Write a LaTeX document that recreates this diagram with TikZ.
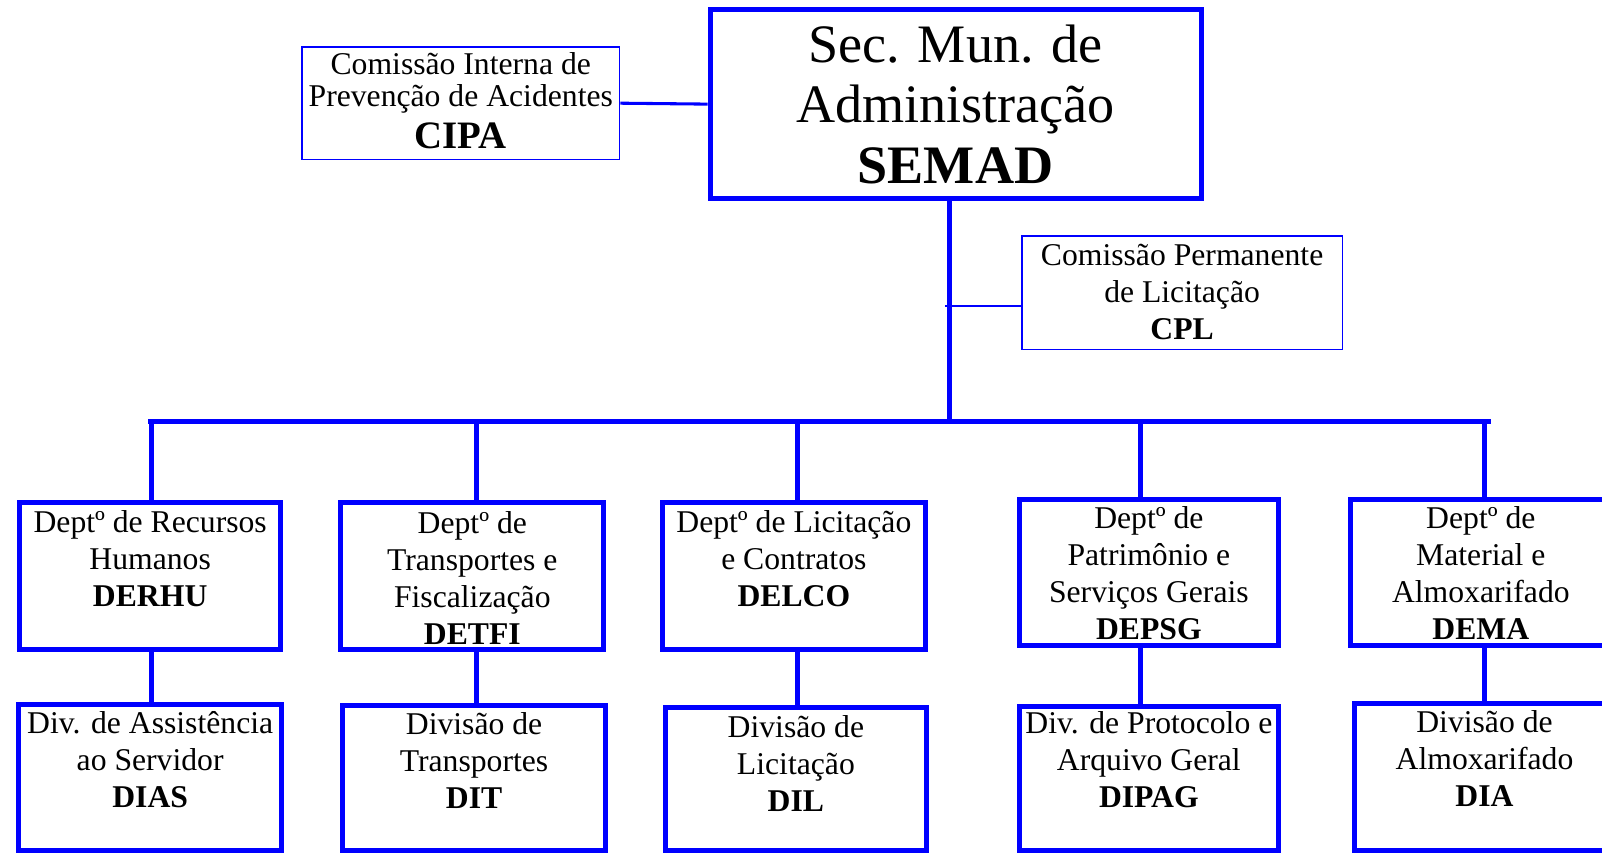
\documentclass[tikz,border=0pt]{standalone}
\usepackage{fontspec}
\setmainfont{Liberation Serif}
\definecolor{orgblue}{RGB}{0,0,255}
\begin{document}
\begin{tikzpicture}[x=1pt,y=-1pt]
\tikzset{
 hbox/.style={draw=orgblue, line width=4.9pt, inner sep=0pt},
 lbox/.style={draw=orgblue, line width=1.6pt, inner sep=0pt},
 hline/.style={draw=orgblue, line width=4.9pt},
 mline/.style={draw=orgblue, line width=3pt},
 sline/.style={draw=orgblue, line width=1.6pt},
 txt/.style={anchor=north, inner sep=0pt, align=center, font=\fontsize{31}{36.3}\selectfont},
 bigtxt/.style={anchor=north, inner sep=0pt, align=center, font=\fontsize{53}{59.3}\selectfont},
 cipatxt/.style={anchor=north, inner sep=0pt, align=center, font=\fontsize{31}{31.5}\selectfont},
}
\useasboundingbox (0,0) rectangle (1568,835);
\clip (0,0) rectangle (1568,835);

% top level
\node[hbox, minimum width=480.5pt, minimum height=184.8pt] (semad) at (935.25,101.9) {};
\node[bigtxt] (semad-t) at (935.25,18.5) {\rule{0pt}{42pt}Sec. Mun. de\\Administração\\\textbf{SEMAD}};

\node[lbox, minimum width=311pt, minimum height=110.3pt] (cipa) at (450.8,101) {};
\node[cipatxt] (cipa-t) at (451,48) {\rule{0pt}{25pt}Comissão Interna de\\Prevenção de Acidentes\\[8pt]{\fontsize{38}{40}\selectfont\bfseries CIPA}};

\node[lbox, minimum width=314pt, minimum height=111pt] (cpl) at (1157,286.5) {};
\node[txt] (cpl-t) at (1157,234.5) {\rule{0pt}{25pt}Comissão Permanente\\de Licitação\\\textbf{CPL}};

% departments
\node[hbox, minimum width=255pt, minimum height=144pt] (derhu) at (147,564) {};
\node[txt] (derhu-t) at (147,496) {\rule{0pt}{25pt}Deptº de Recursos\\Humanos\\\textbf{DERHU}};

\node[hbox, minimum width=257.7pt, minimum height=143.6pt] (detfi) at (462.3,563.8) {};
\node[txt] (detfi-t) at (462.3,496.5) {\rule{0pt}{25pt}Deptº de\\Transportes e\\Fiscalização\\\textbf{DETFI}};

\node[hbox, minimum width=257.2pt, minimum height=143.6pt] (delco) at (777,563.8) {};
\node[txt] (delco-t) at (777,496) {\rule{0pt}{25pt}Deptº de Licitação\\e Contratos\\\textbf{DELCO}};

\node[hbox, minimum width=254.2pt, minimum height=143.2pt] (depsg) at (1124.5,560.5) {};
\node[txt] (depsg-t) at (1124.5,491.6) {\rule{0pt}{25pt}Deptº de\\Patrimônio e\\Serviços Gerais\\\textbf{DEPSG}};

\node[hbox, minimum width=256pt, minimum height=143.2pt] (dema) at (1449.4,560.5) {};
\node[txt] (dema-t) at (1449.4,491.6) {\rule{0pt}{25pt}Deptº de\\Material e\\Almoxarifado\\\textbf{DEMA}};

% divisions
\node[hbox, minimum width=257.2pt, minimum height=143.1pt] (dias) at (147,761) {};
\node[txt] (dias-t) at (147,693) {\rule{0pt}{25pt}Div. de Assistência\\ao Servidor\\\textbf{DIAS}};

\node[hbox, minimum width=257.2pt, minimum height=142.1pt] (dit) at (464,761.5) {};
\node[txt] (dit-t) at (464,694) {\rule{0pt}{25pt}Divisão de\\Transportes\\\textbf{DIT}};

\node[hbox, minimum width=255.2pt, minimum height=140.1pt] (dil) at (779,762.5) {};
\node[txt] (dil-t) at (779,696.5) {\rule{0pt}{25pt}Divisão de\\Licitação\\\textbf{DIL}};

\node[hbox, minimum width=254.2pt, minimum height=140.6pt] (dipag) at (1124.5,762.2) {};
\node[txt] (dipag-t) at (1124.5,693) {\rule{0pt}{25pt}Div. de Protocolo e\\Arquivo Geral\\\textbf{DIPAG}};

\node[hbox, minimum width=255.2pt, minimum height=144.1pt] (dia) at (1453,760.5) {};
\node[txt] (dia-t) at (1453,691.5) {\rule{0pt}{25pt}Divisão de\\Almoxarifado\\\textbf{DIA}};

% connectors
\coordinate (trunk) at (929,413);
\coordinate (busl) at (147,413);
\coordinate (busr) at (1457,413);
\coordinate (b1) at (148,413);
\coordinate (b2) at (466,413);
\coordinate (b3) at (781,413);
\coordinate (b4) at (1116,413);
\coordinate (b5) at (1453,413);
\coordinate (cplj) at (925,299.6);

\draw[mline] (cipa.east) -- (semad.west);
\draw[hline] (trunk |- semad.south) -- (trunk);
\draw[sline] (cplj) -- (cplj -| cpl.west);
\draw[hline, line cap=rect] (busl) -- (busr);
\draw[hline] (b1) -- (b1 |- derhu.north);
\draw[hline] (b2) -- (b2 |- detfi.north);
\draw[hline] (b3) -- (b3 |- delco.north);
\draw[hline] (b4) -- (b4 |- depsg.north);
\draw[hline] (b5) -- (b5 |- dema.north);
\draw[hline] (b1 |- derhu.south) -- (b1 |- dias.north);
\draw[hline] (b2 |- detfi.south) -- (b2 |- dit.north);
\draw[hline] (b3 |- delco.south) -- (b3 |- dil.north);
\draw[hline] (b4 |- depsg.south) -- (b4 |- dipag.north);
\draw[hline] (b5 |- dema.south) -- (b5 |- dia.north);
\end{tikzpicture}
\end{document}
